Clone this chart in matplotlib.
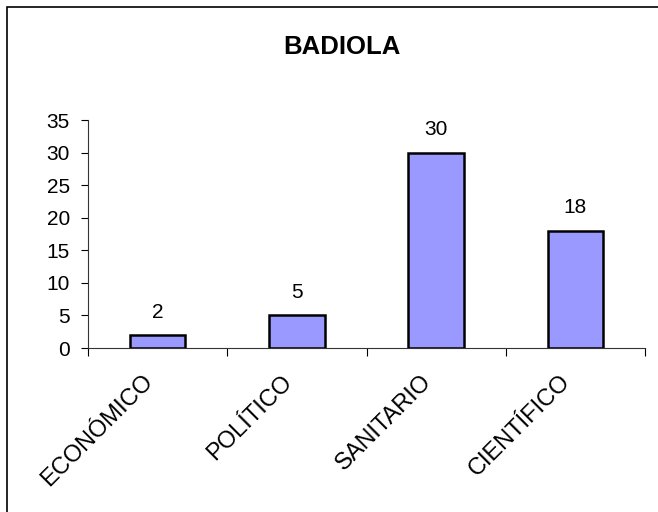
import matplotlib
matplotlib.use('Agg')
import matplotlib.pyplot as plt
import numpy as np
from matplotlib.patches import Rectangle

plt.rcParams['font.family'] = ['Liberation Sans', 'DejaVu Sans']

categories = ['ECONÓMICO', 'POLÍTICO', 'SANITARIO', 'CIENTÍFICO']
values = [2, 5, 30, 18]

fig = plt.figure(figsize=(6.58, 5.12), dpi=100)
fig.patch.set_facecolor('white')

# chart frame (only left/top edges fall inside the image)
fig.add_artist(Rectangle((7 / 658, -0.1), 1.2, 1 - 7 / 512 + 0.1,
                         transform=fig.transFigure, fill=False,
                         edgecolor='black', linewidth=1.2))

ax = fig.add_axes([88 / 658, 164 / 512, 557 / 658, 228 / 512])
x = np.arange(len(categories))
ax.bar(x, values, width=0.4, color='#9999FF', edgecolor='black', linewidth=1.8)

for xi, v in zip(x, values):
    ax.annotate(str(v), (xi, v), xytext=(0, 16.5), textcoords='offset points',
                ha='center', va='center', fontsize=15)

# rotated category names under each bar
for xi, name in zip(x, categories):
    ax.annotate(name, (xi, 0), xycoords=('data', 'axes fraction'),
                xytext=(-6, -22), textcoords='offset points',
                ha='right', va='center', rotation=45, rotation_mode='anchor',
                fontsize=17, annotation_clip=False)

ax.set_xlim(-0.5, len(categories) - 0.5)
ax.set_ylim(0, 35)
ax.set_yticks(np.arange(0, 36, 5))
ax.set_xticks(np.arange(-0.5, len(categories), 1.0))
ax.set_xticklabels([])
ax.tick_params(axis='x', length=6, direction='out', width=0.8)
ax.tick_params(axis='y', length=5, direction='out', width=0.8, labelsize=15, pad=8)

for s in ['top', 'right']:
    ax.spines[s].set_visible(False)
for s in ['left', 'bottom']:
    ax.spines[s].set_color('#333333')
    ax.spines[s].set_linewidth(0.8)

fig.text(342 / 658, 1 - 47 / 512, 'BADIOLA', ha='center', va='center',
         fontsize=18.5, fontweight='bold')

plt.savefig('out.png', dpi=100, facecolor='white')
